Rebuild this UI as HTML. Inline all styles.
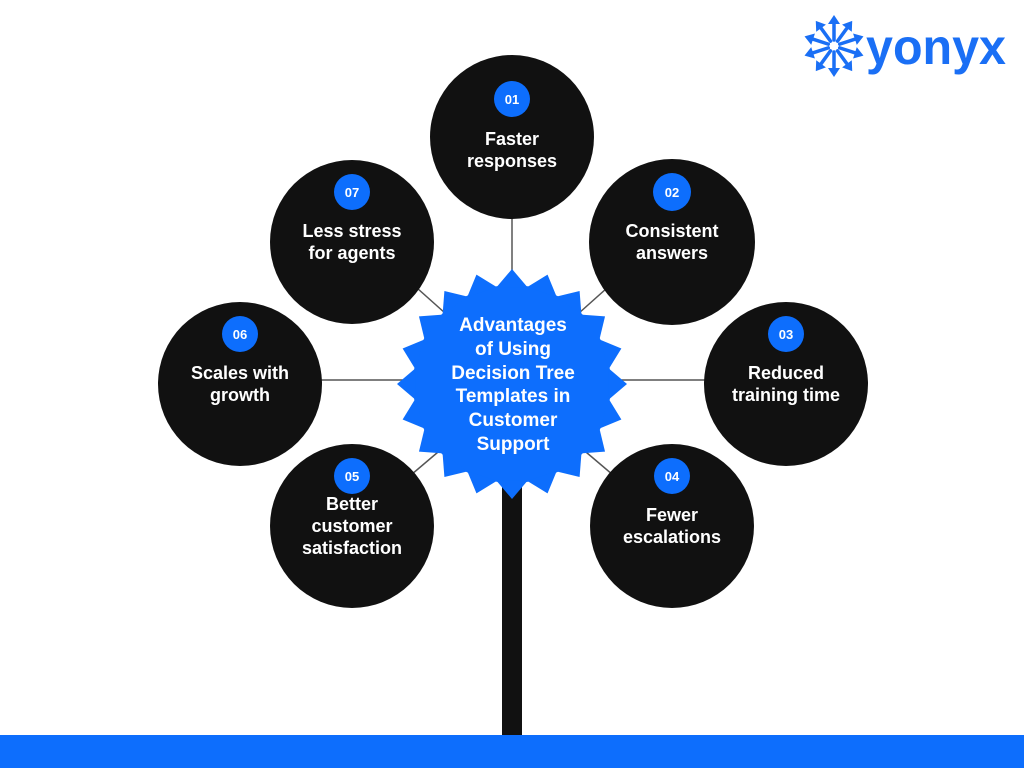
<!DOCTYPE html>
<html><head><meta charset="utf-8"><style>
html,body{margin:0;padding:0;background:#fff}
svg{display:block}
.t{font-family:"Liberation Sans","DejaVu Sans",sans-serif;font-weight:bold;fill:#fff;text-anchor:middle}
</style></head><body>
<svg width="1024" height="768" viewBox="0 0 1024 768" xmlns="http://www.w3.org/2000/svg">
<rect width="1024" height="768" fill="#fff"/>
<g stroke="#555" stroke-width="1.5">
<line x1="512" y1="200" x2="512" y2="290"/>
<line x1="672" y1="230" x2="560" y2="330"/>
<line x1="786" y1="380" x2="600" y2="380"/>
<line x1="672" y1="525" x2="560" y2="430"/>
<line x1="352" y1="525" x2="464" y2="430"/>
<line x1="240" y1="380" x2="424" y2="380"/>
<line x1="352" y1="230" x2="464" y2="330"/>
</g>
<rect x="502" y="440" width="20" height="300" fill="#111"/>
<rect x="0" y="735" width="1024" height="33" fill="#0d6efd"/>
<g fill="#111">
<circle cx="512" cy="137" r="82"/>
<circle cx="672" cy="242" r="83"/>
<circle cx="786" cy="384" r="82"/>
<circle cx="672" cy="526" r="82"/>
<circle cx="352" cy="526" r="82"/>
<circle cx="240" cy="384" r="82"/>
<circle cx="352" cy="242" r="82"/>
</g>
<g transform="translate(512,384)" fill="#0d6efd">
<circle r="99"/>
<g id="sp"><polygon points="0,-115 -15.5,-96.8 15.5,-96.8"/></g>
<use href="#sp" transform="rotate(18)"/><use href="#sp" transform="rotate(36)"/><use href="#sp" transform="rotate(54)"/><use href="#sp" transform="rotate(72)"/><use href="#sp" transform="rotate(90)"/><use href="#sp" transform="rotate(108)"/><use href="#sp" transform="rotate(126)"/><use href="#sp" transform="rotate(144)"/><use href="#sp" transform="rotate(162)"/><use href="#sp" transform="rotate(180)"/><use href="#sp" transform="rotate(198)"/><use href="#sp" transform="rotate(216)"/><use href="#sp" transform="rotate(234)"/><use href="#sp" transform="rotate(252)"/><use href="#sp" transform="rotate(270)"/><use href="#sp" transform="rotate(288)"/><use href="#sp" transform="rotate(306)"/><use href="#sp" transform="rotate(324)"/><use href="#sp" transform="rotate(342)"/>
</g>
<g class="t" font-size="19">
<text x="513" y="331">Advantages</text>
<text x="513" y="355">of Using</text>
<text x="513" y="379">Decision Tree</text>
<text x="513" y="402">Templates in</text>
<text x="513" y="426">Customer</text>
<text x="513" y="450">Support</text>
</g>
<g fill="#0d6efd">
<circle cx="512" cy="99" r="18"/>
<circle cx="672" cy="192" r="19"/>
<circle cx="786" cy="334" r="18"/>
<circle cx="672" cy="476" r="18"/>
<circle cx="352" cy="476" r="18"/>
<circle cx="240" cy="334" r="18"/>
<circle cx="352" cy="192" r="18"/>
</g>
<g class="t" font-size="13">
<text x="512" y="104">01</text>
<text x="672" y="197">02</text>
<text x="786" y="339">03</text>
<text x="672" y="481">04</text>
<text x="352" y="481">05</text>
<text x="240" y="339">06</text>
<text x="352" y="197">07</text>
</g>
<g class="t" font-size="18">
<text x="512" y="145">Faster</text><text x="512" y="167">responses</text>
<text x="672" y="237">Consistent</text><text x="672" y="259">answers</text>
<text x="786" y="379">Reduced</text><text x="786" y="401">training time</text>
<text x="672" y="521">Fewer</text><text x="672" y="543">escalations</text>
<text x="352" y="510">Better</text><text x="352" y="532">customer</text><text x="352" y="554">satisfaction</text>
<text x="240" y="379">Scales with</text><text x="240" y="401">growth</text>
<text x="352" y="237">Less stress</text><text x="352" y="259">for agents</text>
</g>
<g transform="translate(834,46)" stroke="#1a6ff5" stroke-width="3.5" stroke-linecap="round" fill="#1a6ff5">
<g id="ar"><line x1="0" y1="-6" x2="0" y2="-24"/><polygon points="0,-31 -6,-22 6,-22" stroke="none"/></g>
<use href="#ar" transform="rotate(36)"/><use href="#ar" transform="rotate(72)"/><use href="#ar" transform="rotate(108)"/><use href="#ar" transform="rotate(144)"/><use href="#ar" transform="rotate(180)"/><use href="#ar" transform="rotate(216)"/><use href="#ar" transform="rotate(252)"/><use href="#ar" transform="rotate(288)"/><use href="#ar" transform="rotate(324)"/>
</g>
<text x="866" y="64" font-family="Liberation Sans,DejaVu Sans,sans-serif" font-weight="bold" font-size="50" fill="#1a6ff5" textLength="140" lengthAdjust="spacingAndGlyphs">yonyx</text>
</svg>
</body></html>
